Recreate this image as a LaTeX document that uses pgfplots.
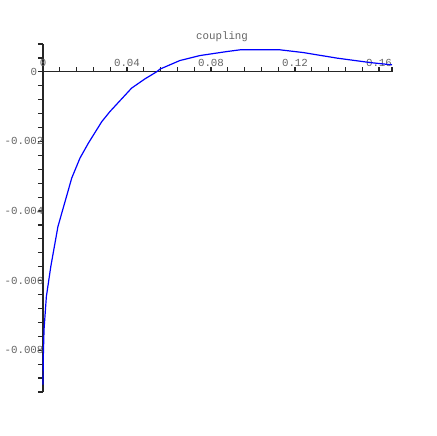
\documentclass[border=0pt]{standalone}
\usepackage{fontspec}
\setmainfont{Liberation Mono}
\usepackage{pgfplots}
\pgfplotsset{compat=1.18}
\definecolor{lab}{RGB}{100,100,100}
\begin{document}
\begin{tikzpicture}[x=1pt,y=1pt]
\useasboundingbox (0,0) rectangle (436,436);
\begin{axis}[
  at={(43pt,44pt)}, anchor=south west,
  scale only axis, width=349pt, height=348pt,
  axis lines=middle,
  axis line style={-, line width=1.3pt, black!85},
  xmin=0, xmax=0.1662, ymin=-0.0092, ymax=0.0008,
  scaled ticks=false,
  hide obscured x ticks=false, hide obscured y ticks=false,
  xtick={0,0.04,0.08,0.12,0.16},
  xticklabels={0,0.04,0.08,0.12,0.16},
  minor xtick={0.008,0.016,0.024,0.032,0.048,0.056,0.064,0.072,0.088,0.096,0.104,0.112,0.128,0.136,0.144,0.152,0.1662},
  ytick={-0.008,-0.006,-0.004,-0.002,0},
  yticklabels={-0.008,-0.006,-0.004,-0.002,{0\phantom{0}}},
  minor ytick={-0.0092,-0.0088,-0.0084,-0.0076,-0.0072,-0.0068,-0.0064,-0.0056,-0.0052,-0.0048,-0.0044,-0.0036,-0.0032,-0.0028,-0.0024,-0.0016,-0.0012,-0.0008,-0.0004,0.0004,0.0008},
  xtick align=inside, ytick align=outside,
  major tick length=5pt, minor tick length=5pt,
  every tick/.style={line width=1.2pt, black!85},
  tick label style={font=\fontsize{10.8}{13}\selectfont, text=lab},
  xticklabel style={anchor=south, yshift=2pt},
  yticklabel style={anchor=east, xshift=9pt},
  xlabel={coupling},
  xlabel style={font=\fontsize{10.8}{13}\selectfont, text=lab, at={(axis description cs:0.513,1)}, anchor=south, yshift=-1pt},
  clip=false,
]
\addplot[blue, line width=1.2pt] coordinates {
(0,-0.00899) (0.00015,-0.00818) (0.0005,-0.0074) (0.0016,-0.00646) (0.0037,-0.0056)
(0.0071,-0.00445) (0.0103,-0.00377) (0.0137,-0.00305) (0.0176,-0.00248) (0.0216,-0.00205)
(0.028,-0.00143) (0.0319,-0.00114) (0.0422,-0.000468) (0.0486,-0.0002) (0.0541,0)
(0.0557,0.000078) (0.0652,0.000325) (0.0748,0.000468) (0.0876,0.000583) (0.0938,0.000632)
(0.1129,0.000632) (0.1238,0.000555) (0.14,0.000394) (0.1557,0.000267) (0.1662,0.0002)
};
\end{axis}
\end{tikzpicture}
\end{document}
